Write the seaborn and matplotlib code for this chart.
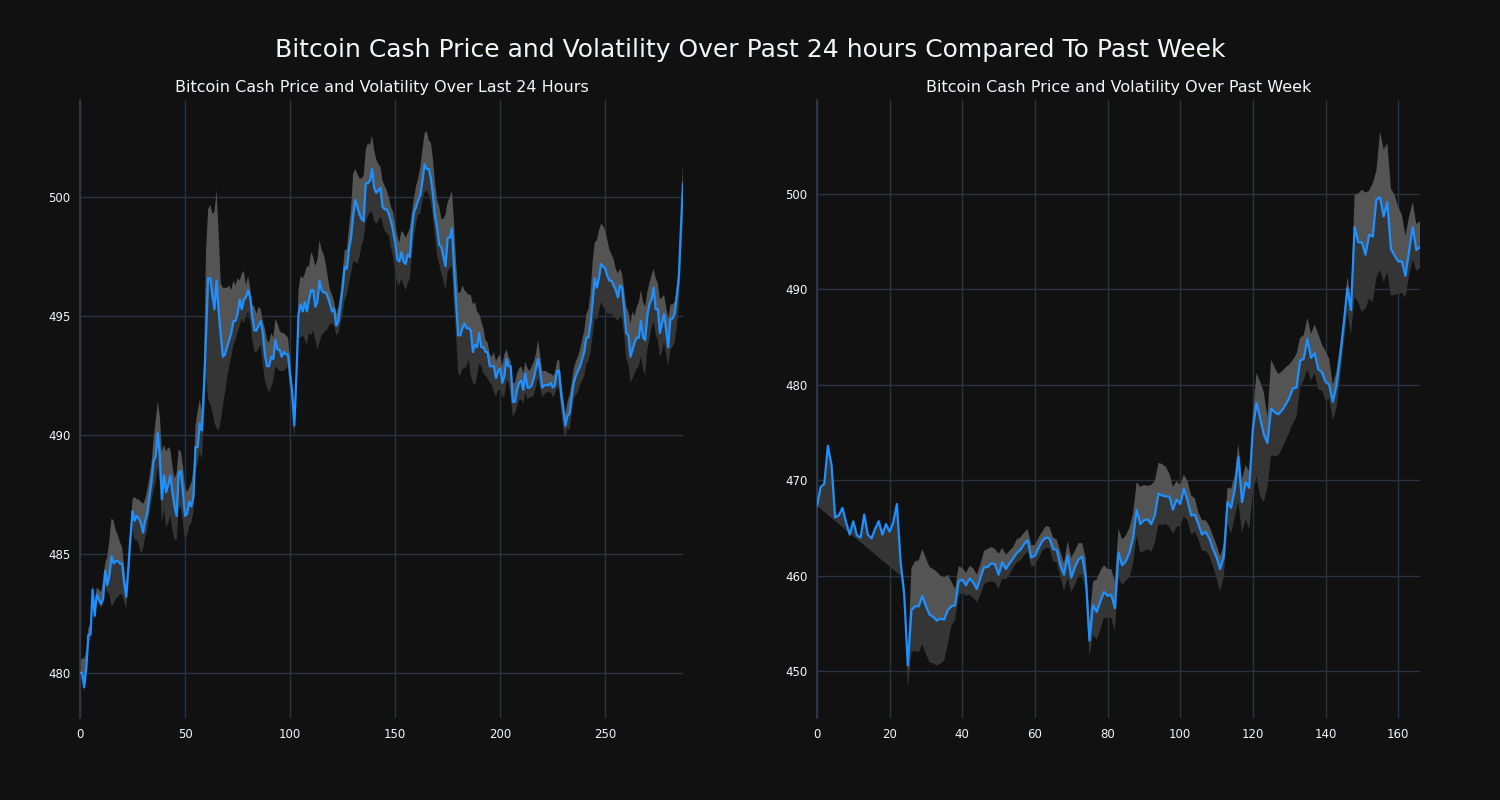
import numpy as np
import pandas as pd
import matplotlib
matplotlib.use("Agg")
import matplotlib.pyplot as plt
import seaborn as sns

# ---------------- data: last 24 hours (5-minute steps) ----------------
day_price = [
    480.0, 480.0, 479.4, 480.2, 481.6, 481.6, 483.5, 482.4, 483.3, 483.1,
    482.9, 483.1, 484.3, 483.7, 484.1, 484.9, 484.6, 484.7, 484.7, 484.6,
    484.6, 483.8, 483.2, 484.4, 485.7, 486.8, 486.4, 486.6, 486.5, 486.3,
    485.9, 486.4, 486.7, 487.4, 488.0, 488.9, 489.1, 490.1, 489.1, 487.3,
    488.3, 487.6, 487.9, 488.3, 487.6, 487.0, 486.6, 488.4, 488.5, 487.6,
    486.6, 486.7, 487.2, 487.0, 487.4, 489.5, 489.5, 490.5, 490.2, 492.0,
    494.2, 496.6, 496.6, 495.9, 495.3, 496.5, 495.2, 494.2, 493.3, 493.4,
    493.7, 494.0, 494.3, 494.8, 494.8, 495.1, 495.7, 495.3, 495.7, 495.8,
    496.1, 495.8, 495.0, 494.4, 494.4, 494.6, 494.8, 494.3, 493.4, 492.9,
    492.9, 493.3, 493.2, 494.0, 493.6, 493.6, 493.3, 493.5, 493.4, 493.4,
    492.5, 491.8, 490.4, 492.5, 495.1, 495.5, 495.2, 495.6, 495.2, 495.7,
    496.1, 496.1, 495.4, 495.6, 496.5, 496.1, 496.0, 496.0, 495.8, 495.5,
    495.2, 495.3, 494.6, 494.8, 495.5, 496.2, 497.1, 497.0, 497.8, 498.3,
    499.2, 499.9, 499.6, 499.3, 499.1, 499.0, 500.6, 500.6, 500.7, 501.2,
    500.4, 500.2, 500.3, 500.4, 499.6, 499.5, 499.5, 499.3, 499.0, 498.6,
    498.1, 497.4, 497.3, 497.7, 497.3, 497.2, 497.6, 497.5, 498.7, 499.4,
    499.6, 499.9, 500.1, 500.7, 501.4, 501.2, 501.2, 500.8, 500.1, 499.2,
    498.7, 498.0, 497.9, 497.5, 497.1, 498.3, 498.3, 498.7, 497.1, 495.6,
    494.2, 494.2, 494.5, 494.7, 494.5, 494.5, 494.4, 493.5, 493.8, 493.7,
    494.3, 493.7, 493.7, 493.5, 493.5, 492.9, 492.9, 492.9, 492.4, 492.7,
    492.8, 492.2, 492.5, 493.2, 492.9, 492.9, 491.4, 491.4, 491.9, 492.2,
    492.3, 491.9, 492.6, 492.0, 492.0, 492.1, 492.4, 492.8, 493.2, 492.7,
    492.0, 492.1, 492.1, 492.1, 492.2, 492.0, 492.1, 492.7, 492.7, 491.7,
    491.1, 490.4, 490.8, 490.9, 491.6, 492.2, 492.5, 492.7, 492.9, 493.2,
    493.5, 494.1, 494.1, 494.7, 495.6, 496.6, 496.2, 496.6, 497.2, 497.1,
    497.0, 496.7, 496.5, 496.5, 496.3, 496.1, 495.8, 496.3, 496.2, 495.3,
    494.3, 494.2, 493.3, 493.6, 493.9, 494.1, 494.1, 494.8, 494.1, 494.0,
    495.0, 495.5, 495.7, 496.2, 495.3, 495.3, 494.3, 494.7, 495.1, 494.4,
    493.7, 494.9, 494.9, 495.1, 495.8, 496.6, 498.7, 500.6,
]
day_upper = [
    480.5, 480.6, 480.6, 480.9, 481.9, 482.0, 483.7, 482.9, 483.6, 483.5,
    483.4, 483.9, 484.6, 484.9, 485.6, 486.5, 486.4, 486.0, 485.8, 485.5,
    485.3, 484.5, 483.6, 484.7, 486.0, 487.3, 487.4, 487.3, 487.3, 487.2,
    487.1, 487.3, 487.7, 488.2, 488.8, 489.8, 490.6, 491.4, 490.8, 489.3,
    489.6, 489.3, 489.5, 489.4, 488.7, 488.2, 488.4, 489.4, 489.3, 488.7,
    487.8, 487.6, 487.8, 488.0, 488.6, 490.4, 491.0, 491.5, 491.0, 493.0,
    497.8, 499.5, 499.7, 499.3, 499.4, 500.3, 498.5, 496.4, 496.2, 496.2,
    496.2, 496.3, 496.1, 496.5, 496.3, 496.6, 496.5, 496.8, 496.9, 496.3,
    496.7, 496.2, 495.5, 495.4, 495.1, 495.4, 495.3, 494.8, 494.5, 494.0,
    493.9, 494.3, 494.1, 494.9, 494.7, 494.4, 494.3, 494.3, 494.2, 494.1,
    493.2, 492.2, 490.8, 493.0, 496.1, 496.7, 496.6, 496.8, 497.1, 497.1,
    497.7, 497.5, 497.1, 497.4, 498.2, 497.8, 497.6, 497.2, 496.6, 496.1,
    495.9, 495.6, 495.1, 495.4, 496.0, 496.8, 497.8, 497.8, 498.7, 499.5,
    501.0, 501.2, 501.0, 500.8, 500.8, 500.9, 502.0, 502.3, 502.2, 502.6,
    502.0, 501.6, 501.4, 501.3, 500.7, 500.5, 500.3, 500.0, 499.6, 499.4,
    498.9, 498.4, 498.1, 498.6, 498.5, 498.3, 498.5, 498.7, 499.4, 500.0,
    500.5, 500.8, 501.3, 502.0, 502.7, 502.8, 502.4, 502.3, 501.6, 500.6,
    499.9, 499.6, 499.1, 499.1, 499.3, 499.8, 500.0, 500.3, 499.0, 497.3,
    496.0, 496.0, 496.3, 496.1, 496.0, 495.9, 495.9, 495.5, 495.6, 495.2,
    495.1, 494.8, 494.5, 494.0, 493.9, 493.4, 493.3, 493.5, 493.1, 493.3,
    493.4, 492.9, 493.4, 493.6, 493.3, 493.1, 492.2, 492.2, 492.6, 492.8,
    492.9, 492.6, 493.1, 492.8, 492.7, 492.9, 493.1, 493.4, 494.0, 493.4,
    492.7, 492.7, 492.7, 492.6, 492.6, 492.5, 492.6, 493.1, 493.2, 492.3,
    491.6, 490.9, 491.4, 491.7, 492.2, 492.8, 493.1, 493.3, 493.6, 494.0,
    494.4, 495.1, 495.3, 496.0, 497.3, 498.1, 498.2, 498.6, 498.9, 498.8,
    498.6, 498.2, 497.8, 497.6, 497.4, 497.0, 496.8, 497.0, 496.8, 496.1,
    495.4, 495.2, 494.7, 495.2, 495.0, 495.4, 495.6, 496.1, 495.6, 495.4,
    496.0, 496.4, 496.7, 497.0, 496.6, 496.4, 495.7, 495.8, 495.9, 495.4,
    494.9, 495.5, 495.5, 495.6, 496.2, 497.1, 499.2, 501.5,
]
day_lower = [
    479.8, 479.7, 479.2, 479.9, 481.3, 481.4, 483.2, 482.2, 483.0, 482.9,
    482.7, 482.9, 483.6, 483.4, 483.3, 482.8, 482.9, 483.1, 483.2, 483.3,
    483.3, 483.0, 482.7, 483.6, 485.0, 486.0, 485.6, 485.6, 485.4, 485.0,
    485.2, 485.7, 486.0, 486.7, 487.2, 487.7, 488.0, 488.7, 487.9, 486.3,
    486.9, 486.1, 486.3, 486.6, 486.0, 485.6, 485.6, 486.9, 487.0, 486.3,
    485.6, 485.8, 486.2, 486.3, 486.8, 488.5, 488.8, 489.3, 489.0, 490.5,
    492.5, 491.5, 491.3, 491.0, 490.5, 490.3, 490.2, 490.6, 491.2, 491.8,
    492.4, 492.9, 493.3, 493.8, 494.0, 494.3, 494.6, 494.9, 494.7, 495.0,
    495.2, 494.8, 494.0, 493.5, 493.5, 493.6, 493.8, 493.0, 492.3, 492.0,
    491.8, 492.0, 492.3, 492.9, 492.8, 492.7, 492.7, 492.7, 492.8, 492.9,
    491.8, 491.0, 489.8, 491.8, 494.1, 494.1, 494.2, 494.0, 493.8, 494.3,
    494.2, 494.4, 494.0, 493.6, 493.9, 494.2, 494.3, 494.4, 494.5, 494.7,
    494.7, 494.6, 494.2, 494.3, 494.7, 495.1, 495.7, 495.9, 496.4, 496.8,
    497.3, 497.3, 497.2, 497.5, 498.0, 498.2, 499.0, 499.2, 499.4, 499.4,
    499.0, 498.9, 499.0, 499.2, 498.9, 498.6, 498.5, 498.4, 497.9, 497.5,
    496.9, 496.4, 496.3, 496.6, 496.3, 496.1, 496.4, 496.6, 497.6, 498.4,
    498.9, 499.3, 499.3, 499.9, 500.2, 500.3, 500.1, 499.8, 499.1, 498.3,
    497.5, 497.2, 496.8, 496.5, 496.1, 496.9, 497.0, 497.1, 495.5, 494.2,
    492.6, 492.5, 492.8, 492.8, 492.9, 493.2, 492.5, 492.2, 492.1, 492.5,
    493.0, 492.9, 492.6, 492.5, 492.4, 492.2, 492.1, 491.8, 491.6, 491.9,
    491.9, 491.6, 491.6, 492.3, 492.2, 491.6, 490.8, 490.9, 491.2, 491.5,
    491.5, 491.3, 491.8, 491.5, 491.6, 491.6, 491.7, 492.0, 492.4, 492.0,
    491.6, 491.7, 491.8, 491.8, 491.8, 491.6, 491.7, 492.0, 492.0, 491.0,
    490.3, 489.9, 490.3, 490.2, 490.9, 491.5, 491.7, 491.8, 492.1, 492.3,
    492.5, 493.0, 493.1, 493.5, 494.2, 495.0, 494.8, 495.2, 495.6, 495.4,
    495.3, 495.1, 495.1, 495.1, 495.0, 494.9, 494.8, 495.0, 494.9, 494.2,
    493.2, 493.0, 492.2, 492.4, 492.6, 492.8, 492.9, 493.3, 492.8, 492.5,
    493.6, 494.0, 494.5, 494.8, 494.2, 494.0, 493.3, 493.5, 493.9, 493.4,
    492.9, 493.6, 493.7, 493.9, 494.5, 495.4, 497.3, 499.1,
]

# ---------------- data: past week (hourly steps) ----------------
nan = float("nan")
week_price = [
    467.3, 469.3, 469.6, 473.6, 471.6, 466.1, 466.3, 467.1, 465.6, 464.3,
    465.7, 464.2, 464.0, 466.4, 464.3, 463.9, 464.9, 465.7, 464.3, 465.4,
    464.6, 465.6, 467.5, 461.5, 458.1, 450.6, 456.4, 456.8, 456.8, 457.9,
    456.8, 455.9, 455.7, 455.3, 455.5, 455.4, 456.4, 456.8, 456.9, 459.4,
    459.6, 459.0, 459.7, 459.3, 458.6, 459.8, 460.9, 460.9, 461.3, 461.2,
    460.1, 461.4, 460.7, 461.3, 461.8, 462.4, 462.7, 463.3, 463.7, 461.9,
    462.1, 462.9, 463.6, 464.0, 463.9, 462.8, 462.7, 461.1, 460.1, 462.1,
    459.8, 460.9, 461.7, 462.0, 459.8, 453.2, 456.9, 456.2, 457.3, 458.3,
    457.9, 458.0, 456.6, 462.4, 461.1, 461.5, 462.4, 463.9, 466.9, 465.4,
    465.8, 465.9, 465.4, 466.3, 468.6, 468.4, 468.3, 468.3, 466.9, 468.0,
    467.5, 469.1, 467.9, 466.3, 466.4, 465.4, 464.3, 464.6, 463.9, 462.8,
    461.9, 460.7, 462.0, 467.7, 467.1, 469.0, 472.4, 467.7, 469.8, 469.2,
    475.4, 478.1, 476.5, 474.8, 473.9, 477.5, 477.1, 476.9, 477.3, 477.9,
    478.6, 479.6, 479.7, 482.5, 482.7, 484.8, 482.8, 483.3, 481.6, 481.3,
    480.3, 480.0, 478.2, 479.9, 482.9, 486.3, 490.1, 487.8, 496.5, 494.9,
    494.9, 493.6, 495.7, 495.5, 499.4, 499.6, 497.6, 499.1, 494.2, 493.5,
    492.9, 492.9, 491.4, 494.0, 496.5, 494.1, 494.4,
]
week_upper = [nan] * 23 + [
    461.8, 458.8, 451.5, 460.8, 461.5, 461.6, 462.8,
    461.8, 460.9, 460.7, 460.4, 460.0, 459.8, 460.1, 459.4, 458.6, 461.0,
    460.8, 460.3, 461.0, 460.8, 460.1, 461.2, 462.6, 462.8, 463.0, 462.8,
    462.3, 462.9, 462.2, 462.6, 463.0, 463.8, 464.0, 464.5, 464.9, 463.2,
    463.2, 464.0, 464.6, 465.2, 465.1, 464.0, 463.8, 462.5, 461.3, 463.6,
    461.9, 462.6, 463.4, 463.4, 461.8, 455.3, 459.4, 459.6, 460.5, 461.1,
    460.7, 460.7, 459.4, 464.9, 463.8, 464.2, 465.0, 466.5, 469.8, 469.3,
    469.5, 469.4, 469.5, 469.9, 471.8, 471.7, 471.4, 470.7, 469.3, 469.9,
    469.5, 470.6, 469.9, 468.4, 468.1, 466.6, 465.8, 465.8, 465.2, 464.2,
    463.2, 462.0, 463.3, 469.2, 469.1, 470.5, 473.8, 470.1, 471.6, 470.9,
    477.0, 481.2, 480.3, 479.2, 476.6, 482.6, 481.8, 481.1, 481.4, 481.8,
    482.1, 482.6, 483.2, 484.9, 485.2, 487.0, 485.3, 486.3, 485.3, 484.2,
    483.5, 482.7, 480.0, 481.4, 484.1, 487.1, 491.3, 489.0, 499.9, 500.0,
    500.4, 500.1, 500.3, 501.1, 502.4, 506.5, 504.6, 505.3, 500.5, 499.9,
    498.6, 497.8, 495.6, 497.6, 499.1, 496.8, 497.1,
]
week_lower = [467.3] + [nan] * 22 + [
    460.0, 457.3, 448.2, 452.0, 452.1, 452.0, 452.8,
    451.8, 450.9, 450.8, 450.6, 450.8, 451.1, 452.8, 454.8, 455.3, 457.9,
    458.2, 457.9, 458.0, 457.7, 457.2, 458.0, 459.1, 459.3, 459.4, 459.3,
    458.6, 459.7, 459.6, 460.1, 460.8, 461.4, 461.6, 462.1, 462.5, 460.9,
    461.1, 461.8, 462.6, 462.9, 462.9, 461.5, 461.4, 459.9, 458.4, 459.8,
    458.3, 459.0, 460.0, 460.1, 458.3, 451.6, 453.8, 453.3, 454.3, 455.6,
    455.5, 455.6, 454.2, 459.8, 459.0, 459.5, 459.8, 461.2, 464.2, 462.4,
    462.6, 462.8, 462.5, 463.4, 465.4, 465.3, 465.4, 465.1, 464.4, 465.1,
    465.2, 466.2, 465.8, 464.3, 464.6, 463.8, 462.6, 462.6, 462.1, 461.0,
    459.7, 458.4, 459.9, 465.5, 464.4, 466.2, 467.7, 464.5, 465.9, 464.9,
    468.8, 470.4, 468.3, 467.7, 469.3, 472.6, 472.5, 472.6, 473.3, 474.1,
    475.0, 475.9, 476.6, 479.7, 480.5, 481.6, 480.4, 481.2, 479.5, 479.4,
    478.4, 478.5, 476.3, 477.5, 480.8, 484.2, 487.7, 485.2, 489.2, 488.6,
    487.6, 488.0, 489.0, 488.6, 491.2, 492.0, 490.7, 491.8, 489.3, 489.4,
    489.5, 489.6, 489.1, 491.4, 493.1, 491.9, 492.2,
]

suptitle = "Bitcoin Cash Price and Volatility Over Past 24 hours Compared To Past Week"
left_title = "Bitcoin Cash Price and Volatility Over Last 24 Hours"
right_title = "Bitcoin Cash Price and Volatility Over Past Week"

# ---------------- style ----------------
BG = "#111111"
GRID = "#283442"
TXT = "#f2f5fa"
LINE = "#1e90ff"
LIGHT = "#545454"
DARK = "#353535"

sns.set_theme(style="darkgrid")
plt.rcParams.update({
    "font.family": ["DejaVu Sans"],
    "figure.facecolor": BG,
    "axes.facecolor": BG,
    "axes.edgecolor": GRID,
    "grid.color": GRID,
    "grid.linewidth": 1.0,
    "text.color": TXT,
    "xtick.color": TXT,
    "ytick.color": TXT,
    "xtick.labelsize": 8.5,
    "ytick.labelsize": 8.5,
})

fig = plt.figure(figsize=(15, 8), dpi=100)
ax1 = fig.add_axes([80 / 1500, 82 / 800, 603 / 1500, 618 / 800])
ax2 = fig.add_axes([817 / 1500, 82 / 800, 603 / 1500, 618 / 800])


def band_polygon(ax, x, price, edge, color):
    """Polygon between the price line and a band edge (edge NaNs are skipped)."""
    x = np.asarray(x, float)
    price = np.asarray(price, float)
    edge = np.asarray(edge, float)
    ok = ~np.isnan(edge)
    idx = np.where(ok)[0]
    span = np.arange(idx[0], idx[-1] + 1)
    xs = np.concatenate([x[span], x[ok][::-1]])
    ys = np.concatenate([price[span], edge[ok][::-1]])
    ax.fill(xs, ys, color=color, linewidth=0, zorder=1)


def draw(ax, price, upper, lower, title, xlim, ylim, yticks, xticks):
    x = np.arange(len(price))
    df = pd.DataFrame({"step": x, "price": price})
    band_polygon(ax, x, price, upper, LIGHT)
    band_polygon(ax, x, price, lower, DARK)
    sns.lineplot(data=df, x="step", y="price", ax=ax, color=LINE,
                 linewidth=1.6, zorder=3)
    ax.set_xlim(*xlim)
    ax.set_ylim(*ylim)
    ax.set_xticks(xticks)
    ax.set_yticks(yticks)
    ax.set_xlabel("")
    ax.set_ylabel("")
    ax.set_title(title, fontsize=11.5, color=TXT, pad=6)
    ax.tick_params(length=0, pad=7)
    for s in ["top", "right", "bottom"]:
        ax.spines[s].set_visible(False)
    ax.spines["left"].set_color("#2e3d50")
    ax.spines["left"].set_linewidth(1.2)
    ax.grid(True, color=GRID, linewidth=1.0)
    ax.set_axisbelow(True)


draw(ax1, day_price, day_upper, day_lower, left_title,
     (0, 287), (478.1, 504.1), [480, 485, 490, 495, 500],
     [0, 50, 100, 150, 200, 250])
draw(ax2, week_price, week_upper, week_lower, right_title,
     (0, 166), (445.1, 509.8), [450, 460, 470, 480, 490, 500],
     [0, 20, 40, 60, 80, 100, 120, 140, 160])

fig.suptitle(suptitle, fontsize=18, color=TXT, y=1 - 50 / 800, va="center")

fig.savefig("out.png", dpi=100, facecolor=BG)
